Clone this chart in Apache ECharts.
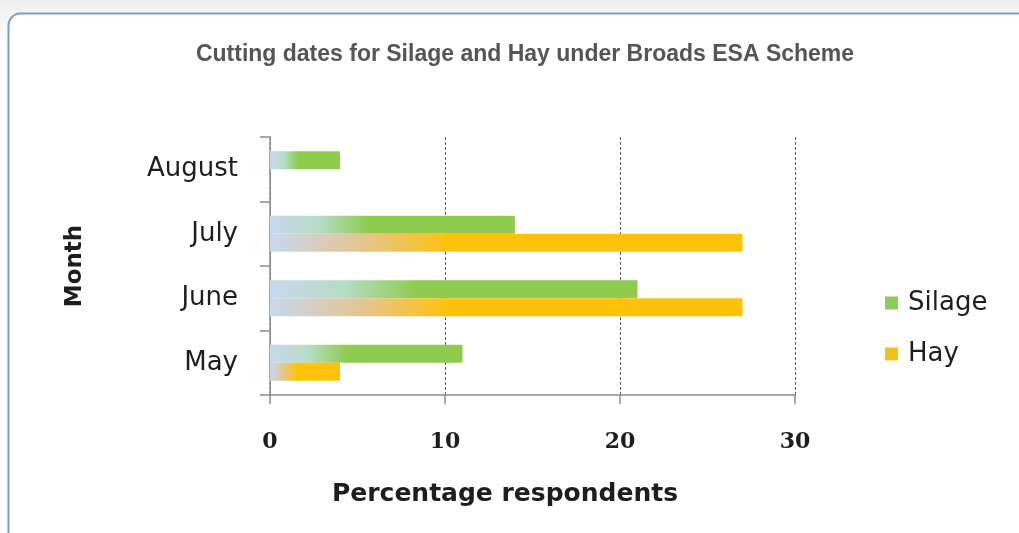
<!DOCTYPE html>
<html>
<head>
<meta charset="utf-8">
<script src="https://cdn.jsdelivr.net/npm/echarts@6/dist/echarts.min.js"></script>
<style>
  html, body { margin: 0; padding: 0; background: #ffffff; }
  #chart { width: 1019px; height: 533px; }
</style>
</head>
<body>
<div id="chart"></div>
<script>
// Cutting months (bottom to top on the category axis)
const months = ['May', 'June', 'July', 'August'];
// Percentage of respondents cutting in each month
const silage = [11, 21, 14, 4];
const hay = [4, 27, 27, 0];
// Value axis ticks
const xTicks = [0, 10, 20, 30];

const chart = echarts.init(document.getElementById('chart'), null, { renderer: 'canvas' });

// Bars fade in from a pale blue at the axis to their full colour
function fade(to, mid, stop) {
  return new echarts.graphic.LinearGradient(0, 0, 1, 0, [
    { offset: 0, color: '#c8d7ef' },
    { offset: stop * 0.5, color: mid },
    { offset: stop, color: to },
    { offset: 1, color: to }
  ]);
}

const option = {
  backgroundColor: 'transparent',
  animation: false,
  graphic: [
    {
      type: 'rect', z: -10, silent: true,
      shape: { x: 0, y: 0, width: 1019, height: 40 },
      style: {
        fill: new echarts.graphic.LinearGradient(0, 0, 0, 1, [
          { offset: 0, color: '#efefef' },
          { offset: 1, color: '#fbfbfb' }
        ])
      }
    },
    {
      type: 'rect', z: -9, silent: true,
      shape: { x: 8.5, y: 13.5, width: 1060, height: 560, r: 12 },
      style: { fill: '#ffffff', stroke: '#7aa0c0', lineWidth: 2 }
    },
    {
      type: 'text', silent: true,
      style: {
        x: 505, y: 494, text: 'Percentage respondents',
        fill: '#1e1e1e', font: 'bold 25px "DejaVu Sans"',
        textAlign: 'center', textVerticalAlign: 'middle'
      }
    },
    {
      type: 'text', silent: true, rotation: Math.PI / 2,
      x: 75, y: 266,
      style: {
        x: 0, y: 0, text: 'Month',
        fill: '#1e1e1e', font: 'bold 23px "DejaVu Sans"',
        textAlign: 'center', textVerticalAlign: 'middle'
      }
    }
  ],
  title: {
    text: 'Cutting dates for Silage and Hay under Broads ESA Scheme',
    left: 520, top: 38, textAlign: 'center',
    textStyle: {
      color: '#555555', fontSize: 23, fontWeight: 'bold',
      fontFamily: '"Liberation Sans Narrow", "Liberation Sans", sans-serif'
    }
  },
  legend: {
    orient: 'vertical',
    left: 880, top: 285,
    itemWidth: 13, itemHeight: 13, itemGap: 25,
    icon: 'rect',
    textStyle: { fontFamily: '"DejaVu Sans"', fontSize: 26, color: '#1e1e1e', padding: [0, 0, 0, 5] },
    data: [
      { name: 'Silage', itemStyle: { color: '#8fca5a' } },
      { name: 'Hay', itemStyle: { color: '#f2c21c' } }
    ]
  },
  grid: { left: 270, right: 224, top: 137, bottom: 138, containLabel: false },
  xAxis: {
    type: 'value',
    min: 0, max: 30, interval: 10,
    axisLine: { show: true, lineStyle: { color: '#8c8c8c', width: 1.5 } },
    axisTick: { show: true, length: 9, lineStyle: { color: '#8c8c8c', width: 1.5 } },
    splitLine: { show: true, lineStyle: { type: [3, 2], color: '#606060', width: 1 } },
    axisLabel: {
      margin: 36, fontFamily: '"DejaVu Serif"', fontSize: 22, fontWeight: 'bold', color: '#1e1e1e',
      formatter: v => (xTicks.indexOf(v) >= 0 ? String(v) : '')
    }
  },
  yAxis: {
    type: 'category',
    data: months,
    axisLine: { show: true, lineStyle: { color: '#8c8c8c', width: 1.5 } },
    axisTick: { show: true, length: 10, lineStyle: { color: '#8c8c8c', width: 1.5 } },
    axisLabel: { margin: 32, fontFamily: '"DejaVu Sans"', fontSize: 26, color: '#1e1e1e' },
    splitLine: { show: false }
  },
  series: [
    {
      name: 'Silage', type: 'bar', data: silage,
      barWidth: 18, barGap: '0%',
      itemStyle: { color: fade('#8fcb4e', '#b5dcc6', 0.4) }
    },
    {
      name: 'Hay', type: 'bar', data: hay,
      barWidth: 18, barGap: '0%',
      itemStyle: { color: fade('#ffc20a', '#e3c595', 0.38) }
    }
  ]
};

chart.setOption(option);
</script>
</body>
</html>
